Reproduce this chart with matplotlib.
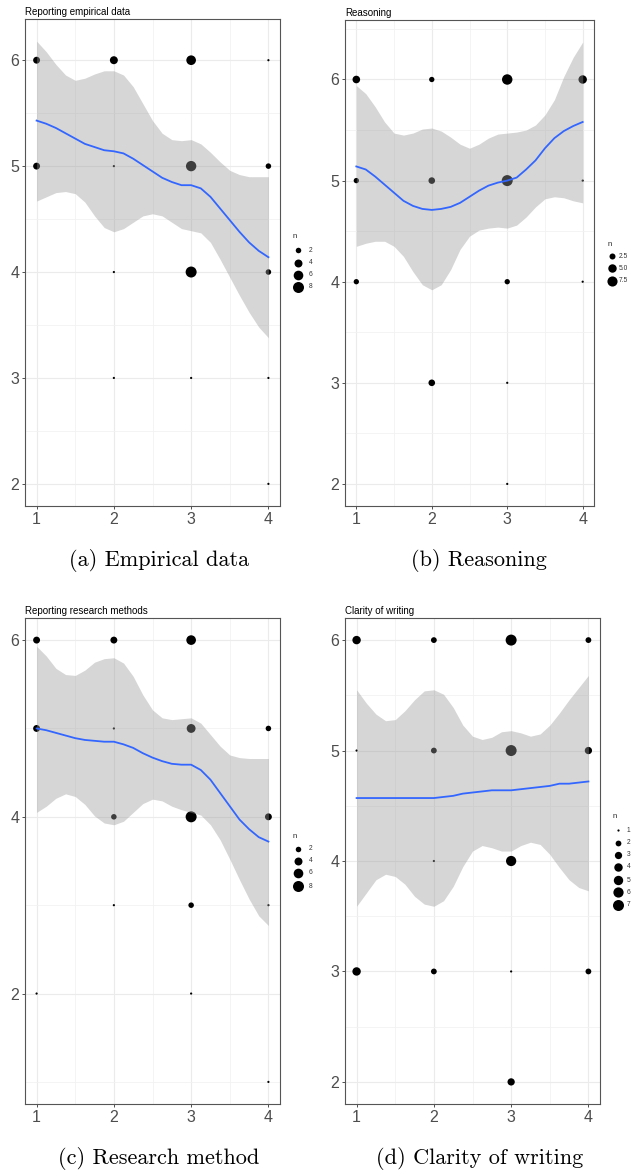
import numpy as np
import matplotlib.pyplot as plt
from matplotlib.lines import Line2D

W, H = 637, 1176

#%% data
sm_x = [1, 1.125, 1.25, 1.375, 1.5, 1.625, 1.75, 1.875, 2, 2.125, 2.25, 2.375, 2.5,
        2.625, 2.75, 2.875, 3, 3.125, 3.25, 3.375, 3.5, 3.625, 3.75, 3.875, 4]

# (a) Reporting empirical data
a_x = [1, 1, 2, 2, 2, 2, 3, 3, 3, 3, 4, 4, 4, 4, 4]
a_y = [6, 5, 6, 5, 4, 3, 6, 5, 4, 3, 6, 5, 4, 3, 2]
a_n = [3, 3, 4, 1, 1, 1, 6, 7, 8, 1, 1, 2, 2, 1, 1]
a_fit = [5.43, 5.40, 5.36, 5.31, 5.26, 5.21, 5.18, 5.15, 5.14, 5.12, 5.07, 5.01, 4.95,
         4.89, 4.85, 4.82, 4.82, 4.79, 4.71, 4.60, 4.49, 4.38, 4.28, 4.20, 4.14]
a_hi = [6.18, 6.08, 5.96, 5.86, 5.81, 5.83, 5.87, 5.90, 5.90, 5.86, 5.75, 5.59, 5.43,
        5.31, 5.25, 5.24, 5.25, 5.21, 5.13, 5.04, 4.96, 4.92, 4.90, 4.90, 4.90]
a_lo = [4.67, 4.71, 4.75, 4.76, 4.74, 4.66, 4.53, 4.42, 4.38, 4.41, 4.47, 4.53, 4.55,
        4.53, 4.47, 4.41, 4.39, 4.37, 4.28, 4.12, 3.95, 3.78, 3.62, 3.48, 3.38]

# (b) Reasoning
b_x = [1, 1, 1, 2, 2, 2, 3, 3, 3, 3, 3, 4, 4, 4]
b_y = [6, 5, 4, 6, 5, 3, 6, 5, 4, 3, 2, 6, 5, 4]
b_n = [4, 2, 2, 2, 3, 3, 8, 9, 2, 1, 1, 5, 1, 1]
b_fit = [5.14, 5.11, 5.04, 4.96, 4.88, 4.80, 4.75, 4.72, 4.71, 4.72, 4.74, 4.78, 4.84,
         4.90, 4.95, 4.98, 5.00, 5.03, 5.11, 5.20, 5.32, 5.42, 5.49, 5.54, 5.58]
b_hi = [5.94, 5.86, 5.73, 5.58, 5.47, 5.45, 5.47, 5.51, 5.52, 5.49, 5.43, 5.36, 5.32,
        5.36, 5.42, 5.46, 5.47, 5.48, 5.50, 5.55, 5.65, 5.80, 6.03, 6.22, 6.37]
b_lo = [4.35, 4.38, 4.40, 4.40, 4.35, 4.25, 4.10, 3.97, 3.92, 3.97, 4.12, 4.32, 4.45,
        4.51, 4.53, 4.54, 4.53, 4.56, 4.64, 4.74, 4.82, 4.84, 4.83, 4.80, 4.78]

# (c) Reporting research methods
c_x = [1, 1, 1, 2, 2, 2, 2, 3, 3, 3, 3, 3, 4, 4, 4, 4]
c_y = [6, 5, 2, 6, 5, 4, 3, 6, 5, 4, 3, 2, 5, 4, 3, 1]
c_n = [3, 3, 1, 3, 1, 2, 1, 6, 5, 8, 2, 1, 2, 3, 1, 1]
c_fit = [5.00, 4.98, 4.95, 4.92, 4.89, 4.87, 4.86, 4.85, 4.85, 4.82, 4.78, 4.72, 4.67,
         4.63, 4.60, 4.59, 4.59, 4.53, 4.42, 4.27, 4.12, 3.97, 3.86, 3.77, 3.72]
c_hi = [5.93, 5.82, 5.68, 5.61, 5.60, 5.66, 5.75, 5.79, 5.80, 5.74, 5.59, 5.38, 5.21,
        5.12, 5.10, 5.11, 5.12, 5.06, 4.93, 4.80, 4.70, 4.67, 4.66, 4.66, 4.66]
c_lo = [4.05, 4.12, 4.21, 4.26, 4.23, 4.14, 4.01, 3.93, 3.91, 3.95, 4.05, 4.15, 4.20,
        4.18, 4.12, 4.08, 4.05, 4.02, 3.91, 3.74, 3.52, 3.29, 3.07, 2.88, 2.77]

# (d) Clarity of writing
d_x = [1, 1, 1, 2, 2, 2, 2, 3, 3, 3, 3, 3, 4, 4, 4]
d_y = [6, 5, 3, 6, 5, 4, 3, 6, 5, 4, 3, 2, 6, 5, 3]
d_n = [4, 1, 4, 2, 2, 1, 2, 7, 7, 6, 1, 3, 2, 3, 2]
d_fit = [4.57, 4.57, 4.57, 4.57, 4.57, 4.57, 4.57, 4.57, 4.57, 4.58, 4.59, 4.61, 4.62,
         4.63, 4.64, 4.64, 4.64, 4.65, 4.66, 4.67, 4.68, 4.70, 4.70, 4.71, 4.72]
d_hi = [5.55, 5.43, 5.33, 5.27, 5.28, 5.36, 5.46, 5.54, 5.55, 5.51, 5.39, 5.23, 5.13,
        5.10, 5.12, 5.17, 5.18, 5.16, 5.13, 5.15, 5.23, 5.34, 5.46, 5.57, 5.68]
d_lo = [3.59, 3.71, 3.83, 3.88, 3.86, 3.79, 3.68, 3.61, 3.59, 3.64, 3.77, 3.95, 4.09,
        4.14, 4.12, 4.09, 4.09, 4.14, 4.17, 4.15, 4.06, 3.94, 3.83, 3.76, 3.73]

titles = ["Reporting empirical data", "Reasoning", "Reporting research methods", "Clarity of writing"]
captions = ["(a) Empirical data", "(b) Reasoning", "(c) Research method", "(d) Clarity of writing"]
legend_breaks = [[2, 4, 6, 8], [2.5, 5.0, 7.5], [2, 4, 6, 8], [1, 2, 3, 4, 5, 6, 7]]
legend_labels = [["2", "4", "6", "8"], ["2.5", "5.0", "7.5"], ["2", "4", "6", "8"],
                 ["1", "2", "3", "4", "5", "6", "7"]]
n_max = [8, 9, 8, 7]
y_major = [[2, 3, 4, 5, 6], [2, 3, 4, 5, 6], [2, 4, 6], [2, 3, 4, 5, 6]]
y_minor = [[2.5, 3.5, 4.5, 5.5], [2.5, 3.5, 4.5, 5.5, 6.5], [1, 3, 5], [2.5, 3.5, 4.5, 5.5]]

#%% layout (pixels, from top-left)
boxes = [(25, 19, 280, 506), (345, 20, 594, 506), (25, 618, 280, 1104), (345, 618, 600, 1104)]
cap_pos = [(159, 566), (479, 566), (159, 1164), (480, 1164)]
leg_pos = [(293, 237, 298, 309, [250, 263, 275, 287]),
           (608, 244, 612, 619, [256, 268, 281]),
           (293, 836, 298, 309, [849, 861, 873, 886]),
           (613, 817, 618, 627, [830, 843, 855, 867, 880, 892, 905])]


def fx(px):
    return px / W


def fy(py):
    return 1 - py / H


def dia(n, nmax):
    # ggplot-like area scale, diameter in pixels
    n = np.asarray(n, dtype=float)
    return 1.1 * (0.4 + 1.6 * (1 + 5 * np.sqrt((n - 1) / (nmax - 1))))


plt.rcParams['font.family'] = ['Liberation Sans', 'DejaVu Sans']
fig = plt.figure(figsize=(W / 100, H / 100), dpi=100)

panels = [(a_x, a_y, a_n, a_fit, a_lo, a_hi),
          (b_x, b_y, b_n, b_fit, b_lo, b_hi),
          (c_x, c_y, c_n, c_fit, c_lo, c_hi),
          (d_x, d_y, d_n, d_fit, d_lo, d_hi)]

for i, (px, py, pn, fit, lo, hi) in enumerate(panels):
    l, t, r, b = boxes[i]
    ax = fig.add_axes([fx(l), fy(b), (r - l) / W, (b - t) / H])
    ax.set_axisbelow(True)

    s = (dia(pn, n_max[i]) * 0.72) ** 2
    ax.scatter(px, py, s=s, c='black', lw=0, zorder=2)
    ax.fill_between(sm_x, lo, hi, color='#999999', alpha=0.4, lw=0, zorder=3)
    ax.plot(sm_x, fit, color='#3366FF', lw=1.3, zorder=4)

    ymin = min(min(py), min(lo))
    ymax = max(max(py), max(hi))
    pad = 0.05 * (ymax - ymin)
    ax.set_ylim(ymin - pad, ymax + pad)
    ax.set_xlim(0.85, 4.15)

    ax.set_xticks([1, 2, 3, 4])
    ax.set_xticks([1.5, 2.5, 3.5], minor=True)
    ax.set_yticks(y_major[i])
    ax.set_yticks(y_minor[i], minor=True)
    ax.grid(which='major', color='#ebebeb', lw=0.8)
    ax.grid(which='minor', color='#f2f2f2', lw=0.6)
    ax.tick_params(which='major', length=2.5, width=0.6, color='#333333',
                   labelsize=11.5, labelcolor='#4d4d4d', pad=1.5)
    ax.tick_params(which='minor', length=0)
    for sp in ax.spines.values():
        sp.set_color('#555555')
        sp.set_linewidth(0.8)

    ax.set_title(titles[i], loc='left', fontsize=7, pad=3)

    # legend for n
    tx, ty, mx, lx, rows = leg_pos[i]
    fig.text(fx(tx), fy(ty), "n", fontsize=5.5, ha='left', va='center', color='#222222')
    for br, lab, ry in zip(legend_breaks[i], legend_labels[i], rows):
        fig.add_artist(Line2D([fx(mx)], [fy(ry)], marker='o', ls='none', color='black',
                              markeredgewidth=0,
                              markersize=float(dia(br, n_max[i])) * 0.72,
                              transform=fig.transFigure))
        fig.text(fx(lx), fy(ry), lab, fontsize=4.8, ha='left', va='center', color='#333333')

    cx, cy = cap_pos[i]
    fig.text(fx(cx), fy(cy), captions[i], family='cmr10', fontsize=16,
             ha='center', va='baseline')

fig.savefig('out.png', dpi=100)
